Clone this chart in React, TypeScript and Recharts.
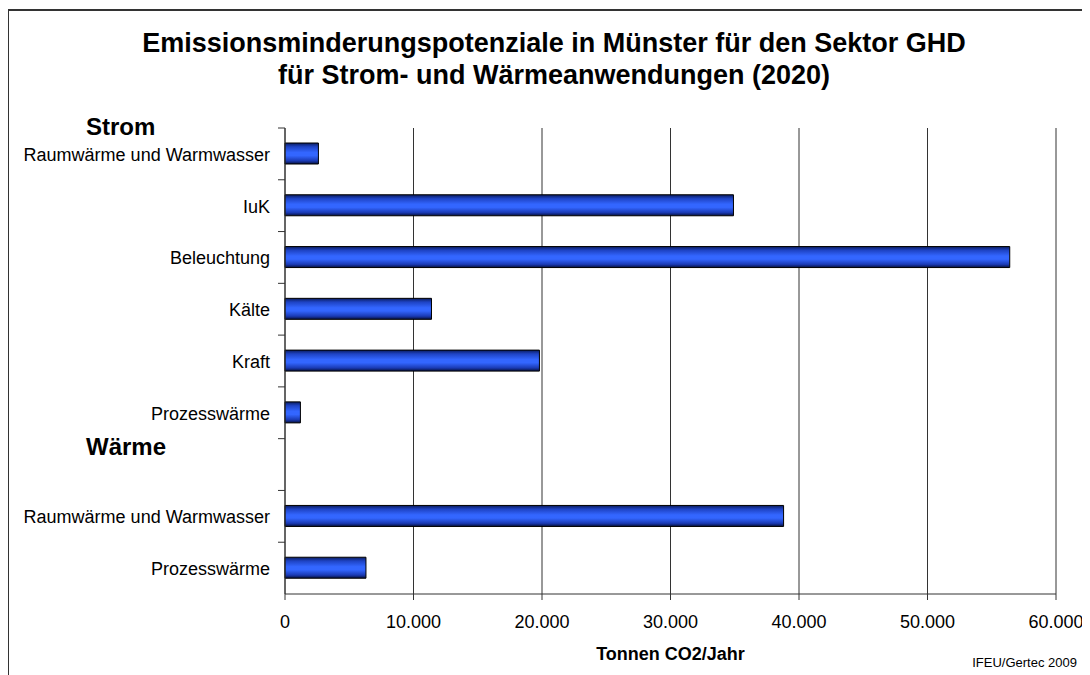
import { BarChart, Bar, XAxis, YAxis, CartesianGrid } from 'recharts'

// Kategorien (Schlüssel eindeutig, weil Bezeichnungen doppelt vorkommen)
const categories = ['strom-raum', 'iuk', 'beleuchtung', 'kaelte', 'kraft', 'strom-prozess', 'waerme', 'waerme-raum', 'waerme-prozess']
const labels = ['Raumwärme und Warmwasser', 'IuK', 'Beleuchtung', 'Kälte', 'Kraft', 'Prozesswärme', 'Wärme', 'Raumwärme und Warmwasser', 'Prozesswärme']
const values = [2600, 34900, 56400, 11400, 19800, 1200, null, 38800, 6300]
const headerRows = ['waerme']
const firstHeader = 'Strom'
const xTicks = [0, 10000, 20000, 30000, 40000, 50000, 60000]

const title1 = 'Emissionsminderungspotenziale in Münster für den Sektor GHD'
const title2 = 'für Strom- und Wärmeanwendungen (2020)'
const xLabel = 'Tonnen CO2/Jahr'
const source = 'IFEU/Gertec 2009'

const data = categories.map((key, i) => ({ key, label: labels[i], value: values[i] }))

const W = 1090
const H = 675
const margin = { top: 128, right: 34, bottom: 41, left: 0 }
const Y_AXIS_W = 285
const X_AXIS_H = 40
const PLOT_H = H - margin.top - margin.bottom - X_AXIS_H
const FONT = '"Liberation Sans", Arial, sans-serif'

const fmt = (v: number) => String(v).replace(/\B(?=(\d{3})+(?!\d))/g, '.')

function CategoryTick(props: any) {
  const { x, y, payload, index } = props
  const axisX = x + 15
  const band = PLOT_H / categories.length
  const top = y - band / 2
  const key = payload.value as string
  const i = categories.indexOf(key)
  const isHeader = headerRows.includes(key)
  return (
    <g>
      <line x1={axisX - 7} x2={axisX} y1={top} y2={top} stroke="#333" />
      {index === 0 && (
        <text x={axisX - 199} y={y - 19} fontSize={24} fontWeight="bold" fill="#000" fontFamily={FONT}>
          {firstHeader}
        </text>
      )}
      {isHeader ? (
        <text x={axisX - 199} y={y - 10} fontSize={24} fontWeight="bold" fill="#000" fontFamily={FONT}>
          {labels[i]}
        </text>
      ) : (
        <text x={x} y={y + 7} textAnchor="end" fontSize={18} fill="#000" fontFamily={FONT}>
          {labels[i]}
        </text>
      )}
    </g>
  )
}

export default function App() {
  return (
    <div style={{ position: 'relative', width: W - 8, height: H - 8, fontFamily: FONT }}>
      <div
        style={{
          position: 'absolute',
          left: -1,
          top: 1,
          width: W - 7,
          height: H - 9,
          boxSizing: 'border-box',
          borderTop: '2px solid #333',
          borderLeft: '2px solid #333',
        }}
      />
      <div style={{ position: 'absolute', left: -8, top: -8, width: W, height: H }}>
        <div
          style={{
            position: 'absolute',
            left: 0,
            width: 1108,
            top: 27,
            textAlign: 'center',
            fontSize: 27,
            lineHeight: '32px',
            fontWeight: 'bold',
            color: '#000',
            whiteSpace: 'nowrap',
          }}
        >
          <div>{title1}</div>
          <div>{title2}</div>
        </div>
        <BarChart width={W} height={H} data={data} layout="vertical" margin={margin}>
          <defs>
            <linearGradient id="barGrad" x1="0" y1="0" x2="0" y2="1">
              <stop offset="0" stopColor="#0a1c5e" />
              <stop offset="0.18" stopColor="#1e43c4" />
              <stop offset="0.45" stopColor="#3366ff" />
              <stop offset="0.6" stopColor="#3366ff" />
              <stop offset="0.85" stopColor="#1a3ab4" />
              <stop offset="1" stopColor="#06103c" />
            </linearGradient>
          </defs>
          <CartesianGrid horizontal={false} stroke="#333" />
          <XAxis
            type="number"
            domain={[0, 60000]}
            ticks={xTicks}
            tickFormatter={fmt}
            height={X_AXIS_H}
            tickSize={6}
            tickMargin={15}
            stroke="#333"
            tick={{ fill: '#000', fontSize: 18, fontFamily: FONT }}
            interval={0}
          />
          <YAxis
            type="category"
            dataKey="key"
            width={Y_AXIS_W}
            tickLine={false}
            tickSize={6}
            tickMargin={9}
            stroke="#333"
            tick={<CategoryTick />}
            interval={0}
          />
          <Bar dataKey="value" fill="url(#barGrad)" stroke="#000" strokeWidth={1} barSize={21} isAnimationActive={false} />
        </BarChart>
        <div
          style={{
            position: 'absolute',
            left: Y_AXIS_W,
            width: W - Y_AXIS_W - margin.right,
            top: 644,
            textAlign: 'center',
            fontSize: 18,
            fontWeight: 'bold',
            color: '#000',
            lineHeight: '20px',
          }}
        >
          {xLabel}
        </div>
        <div style={{ position: 'absolute', right: 13, top: 655, fontSize: 13, lineHeight: '15px', color: '#000' }}>
          {source}
        </div>
      </div>
    </div>
  )
}
